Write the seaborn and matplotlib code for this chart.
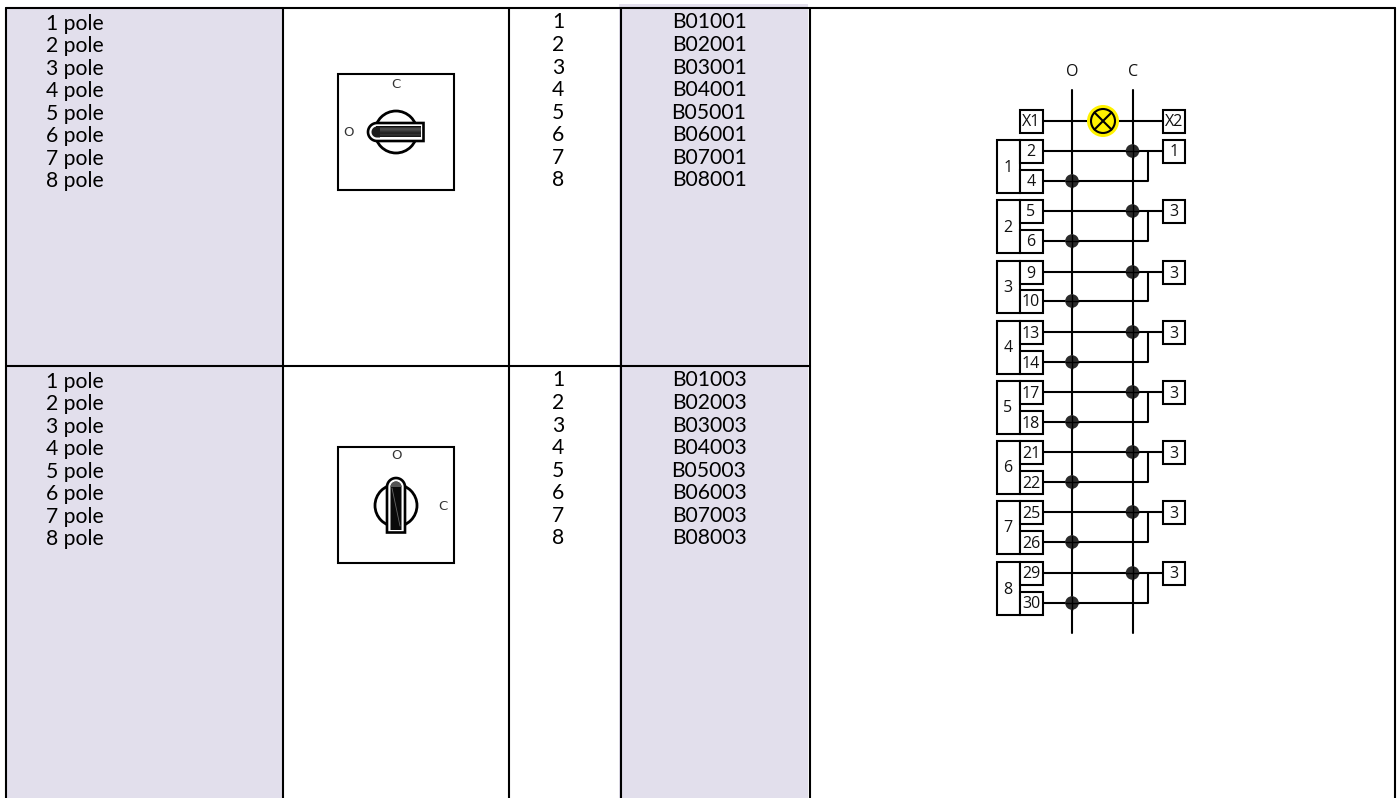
import numpy as np
import pandas as pd
import matplotlib
matplotlib.use("Agg")
import matplotlib.pyplot as plt
from matplotlib.patches import Circle, Rectangle, Polygon
import seaborn as sns

# ---- table content ----
pole_labels = ["1 pole", "2 pole", "3 pole", "4 pole", "5 pole", "6 pole", "7 pole", "8 pole"]
pole_numbers = ["1", "2", "3", "4", "5", "6", "7", "8"]
codes_row1 = ["B01001", "B02001", "B03001", "B04001", "B05001", "B06001", "B07001", "B08001"]
codes_row2 = ["B01003", "B02003", "B03003", "B04003", "B05003", "B06003", "B07003", "B08003"]

# ---- schematic content ----
group_numbers = ["1", "2", "3", "4", "5", "6", "7", "8"]
terminals_top = ["2", "5", "9", "13", "17", "21", "25", "29"]
terminals_bottom = ["4", "6", "10", "14", "18", "22", "26", "30"]
terminals_right = ["1", "3", "3", "3", "3", "3", "3", "3"]

# ---- layout (pixels) ----
W, H = 1400, 798
col_x = [6, 283, 509, 621, 810, 1394.5]
top_y, mid_y = 8, 365.5
SHADE, INK = "#e2dfec", "#000000"
BODY = "Lato"
SCH = "Open Sans"
LW = 1.5

sns.set_theme(style="white")
plt.rcParams["font.family"] = [BODY, "DejaVu Sans"]
plt.rcParams["text.color"] = "#000000"

fig = plt.figure(figsize=(W / 100, H / 100), dpi=100)
ax = fig.add_axes([0, 0, 1, 1])
ax.set_axis_off()

# shaded columns
ax.add_patch(Rectangle((col_x[0], top_y), col_x[1] - col_x[0], H - top_y, fc=SHADE, ec="none", zorder=0))
ax.add_patch(Rectangle((619, 4), 189, H - 4, fc=SHADE, ec="none", zorder=0))

# table rules
rules = []
for i, x in enumerate(col_x):
    rules.append(pd.DataFrame({"x": [x, x], "y": [top_y, H], "wire": f"c{i}"}))
rules.append(pd.DataFrame({"x": [col_x[0], col_x[-1]], "y": [top_y, top_y], "wire": "top"}))
rules.append(pd.DataFrame({"x": [col_x[0], col_x[4]], "y": [mid_y, mid_y], "wire": "mid"}))

# table text
STEP = 22.55
FS = 15.2
for k in range(8):
    ax.text(75, 23.5 + STEP * k, pole_labels[k], ha="center", va="center", fontsize=FS)
    ax.text(75, 381.5 + STEP * k, pole_labels[k], ha="center", va="center", fontsize=FS)
    ax.text(558, 22.5 + STEP * k, pole_numbers[k], ha="center", va="center", fontsize=FS)
    ax.text(558, 380.5 + STEP * k, pole_numbers[k], ha="center", va="center", fontsize=FS)
    ax.text(709, 22.5 + STEP * k, codes_row1[k], ha="center", va="center", fontsize=FS)
    ax.text(709, 380.5 + STEP * k, codes_row2[k], ha="center", va="center", fontsize=FS)


def handle_outline(x0, x1, y0, y1, round_side):
    """Closed outline of a bar with one semicircular end."""
    t = np.linspace(0, np.pi, 40)
    if round_side == "left":
        r = (y1 - y0) / 2
        cx, cy = x0 + r, (y0 + y1) / 2
        arc = np.c_[cx - r * np.sin(t), cy - r * np.cos(t)]
        return np.vstack([arc, [[x1, y1], [x1, y0]]])
    r = (x1 - x0) / 2
    cx, cy = (x0 + x1) / 2, y0 + r
    arc = np.c_[cx - r * np.cos(t), cy - r * np.sin(t)]
    return np.vstack([arc, [[x1, y1], [x0, y1]]])


SW_LABEL = dict(ha="center", va="center", fontsize=9.5, family="DejaVu Sans", color="#333333", zorder=5)

# switch 1
ax.add_patch(Rectangle((338, 74), 116, 116, fc="white", ec=INK, lw=LW, zorder=2))
ax.add_patch(Circle((396, 132), 21, fc="white", ec=INK, lw=2, zorder=3))
ax.add_patch(Polygon(handle_outline(368, 423.5, 123, 141, "left"), closed=True, fc="white", ec=INK, lw=1.9, zorder=4))
shade_h = np.array([[0.05], [0.28], [0.30], [0.24], [0.16], [0.14], [0.22], [0.10]])
ax.imshow(shade_h, cmap="gray", vmin=0, vmax=1, extent=(376, 421, 137.5, 126.5), aspect="auto",
          interpolation="bilinear", zorder=5)
ax.add_patch(Polygon(handle_outline(371.5, 380, 126.5, 137.5, "left"), closed=True, fc="#1c1c1c", ec="none", zorder=5.5))
ax.text(396, 84, "C", **SW_LABEL)
ax.text(348, 133, "O", **SW_LABEL)

# switch 2
ax.add_patch(Rectangle((338, 447), 116, 116, fc="white", ec=INK, lw=LW, zorder=2))
ax.add_patch(Circle((396, 505.5), 21, fc="white", ec=INK, lw=2, zorder=3))
ax.add_patch(Polygon(handle_outline(387, 405, 478, 532.5, "top"), closed=True, fc="white", ec=INK, lw=1.9, zorder=4))
ax.add_patch(Polygon(handle_outline(390.5, 401.5, 481.5, 530, "top"), closed=True, fc="#0a0a0a", ec="none", zorder=5))
ax.add_patch(Polygon(handle_outline(390.5, 401.5, 481.5, 487, "top"), closed=True, fc="#555555", ec="none", zorder=6))
ax.plot([392, 400], [488, 526], color="#666666", lw=0.6, zorder=6)
ax.text(396, 455.5, "O", **SW_LABEL)
ax.text(443, 506, "C", **SW_LABEL)

# schematic geometry
bus_o, bus_c = 1072, 1132.5
bus_top, bus_bottom = 90, 633
row_top = np.array([151, 211, 272, 332, 392, 452, 512, 573], dtype=float)
row_bottom = np.array([181, 241, 301, 362, 422, 482, 542, 603], dtype=float)
tap_x = 1147.5
term_l, term_r, group_l = 1019.5, 1042.5, 996.5
right_l, right_r = 1162.5, 1185
half = 11.5
lamp_y = 121

wires = [pd.DataFrame({"x": [bus_o, bus_o], "y": [bus_top, bus_bottom], "wire": "O"}),
         pd.DataFrame({"x": [bus_c, bus_c], "y": [bus_top, bus_bottom], "wire": "C"}),
         pd.DataFrame({"x": [term_r, right_l], "y": [lamp_y, lamp_y], "wire": "lamp"})]
for k in range(8):
    wires.append(pd.DataFrame({"x": [term_r, right_l], "y": [row_top[k]] * 2, "wire": f"t{k}"}))
    wires.append(pd.DataFrame({"x": [term_r, tap_x, tap_x],
                               "y": [row_bottom[k], row_bottom[k], row_top[k]], "wire": f"b{k}"}))
lines = pd.concat(rules + wires, ignore_index=True)
sns.lineplot(data=lines, x="x", y="y", units="wire", estimator=None, sort=False,
             color=INK, lw=LW, ax=ax, legend=False, zorder=1.5)

# junction dots
dots = pd.DataFrame({"x": [bus_c] * 8 + [bus_o] * 8,
                     "y": np.r_[row_top, row_bottom]})
sns.scatterplot(data=dots, x="x", y="y", s=96, color="#2b2b2b", edgecolor="none",
                ax=ax, legend=False, zorder=3)
for _, d in dots.iterrows():
    ax.plot([d.x - 6.5, d.x + 6.5], [d.y, d.y], color="black", lw=1.0, zorder=3.1)
    ax.plot([d.x, d.x], [d.y - 6.5, d.y + 6.5], color="black", lw=1.0, zorder=3.1)


def box(x0, x1, y0, y1, label):
    ax.add_patch(Rectangle((x0, y0), x1 - x0, y1 - y0, fc="white", ec=INK, lw=LW, zorder=4))
    ax.text((x0 + x1) / 2, (y0 + y1) / 2 + 1.5, label, ha="center", va="center",
            fontsize=11.5, family=SCH, color="#111111", zorder=5)


box(term_l, term_r, lamp_y - half, lamp_y + half, "X1")
box(right_l, right_r, lamp_y - half, lamp_y + half, "X2")
for k in range(8):
    box(group_l, term_l, row_top[k] - half, row_bottom[k] + half, group_numbers[k])
    box(term_l, term_r, row_top[k] - half, row_top[k] + half, terminals_top[k])
    box(term_l, term_r, row_bottom[k] - half, row_bottom[k] + half, terminals_bottom[k])
    box(right_l, right_r, row_top[k] - half, row_top[k] + half, terminals_right[k])

ax.text(bus_o + 0.5, 72, "O", ha="center", va="center", fontsize=11.5, family=SCH, color="#111111")
ax.text(bus_c + 0.5, 72, "C", ha="center", va="center", fontsize=11.5, family=SCH, color="#111111")

# lamp
lamp_x = 1103
ax.add_patch(Circle((lamp_x, lamp_y), 16, fc="#fff200", ec="none", zorder=3))
ax.add_patch(Circle((lamp_x, lamp_y), 12, fc="none", ec=INK, lw=LW, zorder=4))
off = 12 * np.sqrt(0.5)
ax.plot([lamp_x - off, lamp_x + off], [lamp_y - off, lamp_y + off], color=INK, lw=LW, zorder=4)
ax.plot([lamp_x - off, lamp_x + off], [lamp_y + off, lamp_y - off], color=INK, lw=LW, zorder=4)

ax.set_xlim(0, W)
ax.set_ylim(H, 0)
ax.set_axis_off()
fig.savefig("out.png", dpi=100, facecolor="white")
